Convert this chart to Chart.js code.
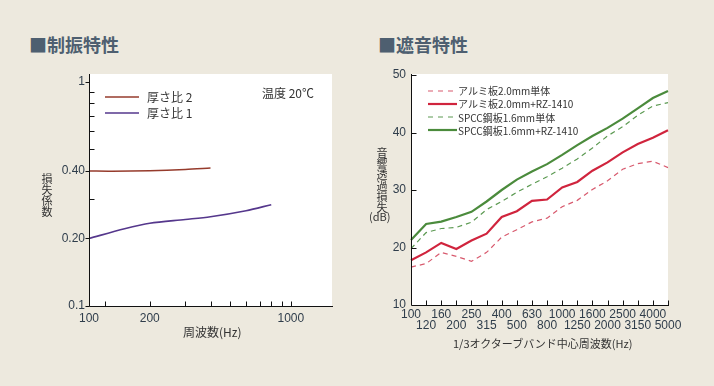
<!DOCTYPE html>
<html>
<head>
<meta charset="utf-8">
<script src="https://cdn.jsdelivr.net/npm/chart.js@4.4.0/dist/chart.umd.min.js"></script>
<style>
  html, body { margin: 0; padding: 0; background: #ede9de; }
  body { width: 714px; height: 386px; position: relative; overflow: hidden;
         font-family: 'Noto Sans CJK JP', sans-serif; color: #333; }
  canvas { position: absolute; }
  .ttl { position: absolute; top: 35px; font-size: 18px; font-weight: 700; color: #4e5f70; line-height: 1; }
  .txt { position: absolute; white-space: nowrap; line-height: 1; }
  .vert { position: absolute; width: 14px; font-size: 11px; color: #333; }
  .vert span { display: block; height: 11px; line-height: 11px; text-align: center; }
  .leg { position: absolute; display: flex; align-items: center; white-space: nowrap; }
  .leg svg { display: block; }
</style>
</head>
<body>
<div class="ttl" style="left:29px">■制振特性</div>
<div class="ttl" style="left:378px">■遮音特性</div>

<canvas id="damp" width="357" height="300" style="left:0;top:60px"></canvas>
<canvas id="sound" width="357" height="300" style="left:357px;top:60px"></canvas>

<div id="dampLegend"></div>
<div class="txt" style="left:262px;top:87px;font-size:12px">温度 20℃</div>
<div class="vert" id="dampYTitle" style="left:40px;top:173px"></div>
<div class="txt" style="left:183px;top:326px;font-size:12px">周波数(Hz)</div>

<div id="soundLegend"></div>
<div class="vert" id="soundYTitle" style="left:375px;top:147px"></div>
<div class="txt" style="left:369px;top:211px;font-size:11px">(dB)</div>
<div class="txt" style="left:453px;top:338px;font-size:11px">1/3オクターブバンド中心周波数(Hz)</div>

<script>
// ---- 制振特性 (損失係数) ----
const dampYTitle = '損失係数';
const thickNames = ['厚さ比 2', '厚さ比 1'];
const thickColors = ['#963b2c', '#55378c'];
const thick2Freq = [100, 130, 200, 300, 400];
const thick2Loss = [0.400, 0.399, 0.401, 0.406, 0.412];
const thick1Freq = [100, 150, 200, 300, 400, 600, 800];
const thick1Loss = [0.200, 0.221, 0.234, 0.243, 0.250, 0.266, 0.283];

const dampXTicks = [100, 120, 200, 300, 400, 500, 600, 700, 800, 900, 1000];
const dampXLabels = [100, 200, 1000];
const dampYTicks = [0.1, 0.2, 0.3, 0.4, 0.5, 0.6, 0.7, 0.8, 0.9, 1];
const dampYLabels = { 0.1: '0.1', 0.2: '0.20', 0.4: '0.40', 1: '1' };

// ---- 遮音特性 (音響透過損失) ----
const soundYTitle = '音響透過損失';
const bandFreqs = ['100', '120', '160', '200', '250', '315', '400', '500', '630',
                   '800', '1000', '1250', '1600', '2000', '2500', '3150', '4000', '5000'];
const soundNames = ['アルミ板2.0mm単体', 'アルミ板2.0mm+RZ-1410', 'SPCC鋼板1.6mm単体', 'SPCC鋼板1.6mm+RZ-1410'];
const soundColors = ['#d85a6e', '#d0243d', '#5c9a52', '#4b8b3c'];
const aluBare = [16.6, 17.2, 19.15, 18.45, 17.6, 19.15, 21.8, 23.1, 24.45, 25.1, 27.1, 28.2, 30.1, 31.6, 33.6, 34.6, 35.0, 33.9];
const aluRz   = [17.8, 19.15, 20.8, 19.75, 21.2, 22.4, 25.3, 26.3, 28.1, 28.35, 30.45, 31.4, 33.35, 34.8, 36.55, 38.0, 39.1, 40.4];
const spccBare = [19.8, 22.6, 23.3, 23.5, 24.4, 26.6, 28.0, 29.6, 31.0, 32.3, 33.8, 35.4, 37.3, 39.4, 41.0, 43.0, 44.6, 45.2];
const spccRz   = [21.3, 24.1, 24.5, 25.3, 26.2, 28.0, 30.0, 31.8, 33.2, 34.5, 36.1, 37.8, 39.4, 40.8, 42.4, 44.2, 46.0, 47.2];
const soundYTicks = [10, 20, 30, 40, 50];

const tickFont = { family: "'Liberation Sans Narrow', 'Arial Narrow', 'Liberation Sans', sans-serif", size: 12 };
const tickColor = '#2f3d4b';

// 縦書きの軸タイトル（1文字ずつ縦に並べる）
function stackTitle(id, text) {
  document.getElementById(id).innerHTML = Array.from(text).map(c => '<span>' + c + '</span>').join('');
}
stackTitle('dampYTitle', dampYTitle);
stackTitle('soundYTitle', soundYTitle);

// 白い描画領域と軸線・目盛り線
const axisFrame = {
  id: 'axisFrame',
  beforeDraw(chart, args, o) {
    const { ctx, chartArea: a } = chart;
    ctx.save();
    ctx.fillStyle = '#ffffff';
    ctx.fillRect(a.left, a.top - o.extraTop, a.right - a.left, a.bottom - a.top + o.extraTop);
    ctx.restore();
  },
  afterDraw(chart, args, o) {
    const { ctx, chartArea: a, scales } = chart;
    const L = Math.round(a.left) + 0.5;
    const B = Math.round(a.bottom) + 0.5;
    ctx.save();
    ctx.strokeStyle = '#111';
    ctx.lineWidth = 1;
    ctx.beginPath();
    ctx.moveTo(L, a.top - o.extraTop);
    ctx.lineTo(L, B);
    ctx.lineTo(Math.round(a.right) + 1, B);
    o.xMarks.forEach(v => {
      const x = Math.round(scales.x.getPixelForValue(v)) + 0.5;
      ctx.moveTo(x, B);
      ctx.lineTo(x, B - 5);
    });
    o.yMarks.forEach(v => {
      const y = Math.round(scales.y.getPixelForValue(v)) + 0.5;
      ctx.moveTo(L, y);
      if (o.yOut.includes(v)) ctx.lineTo(L - 4, y);
      else ctx.lineTo(L + 5, y);
    });
    ctx.stroke();
    ctx.restore();
  }
};

function buildLegend(id, names, colors, dashes, widths, left, top, step, lineW, gap, fontSize) {
  const box = document.getElementById(id);
  names.forEach((name, i) => {
    const row = document.createElement('div');
    row.className = 'leg';
    row.style.left = left + 'px';
    row.style.top = (top + i * step) + 'px';
    row.style.fontSize = fontSize + 'px';
    row.innerHTML = '<svg width="' + (lineW + gap) + '" height="10"><line x1="0" y1="5" x2="' + lineW +
      '" y2="5" stroke="' + colors[i] + '" stroke-width="' + widths[i] + '"' +
      (dashes[i] ? ' stroke-dasharray="' + dashes[i].join(' ') + '"' : '') + '/></svg><span>' + name + '</span>';
    box.appendChild(row);
  });
}

buildLegend('dampLegend', thickNames, thickColors, [null, null], [1.3, 1.3], 105, 88, 16, 34, 8, 12);
buildLegend('soundLegend', soundNames, soundColors, [[5, 5], null, [5, 5], null], [1.2, 2.2, 1.2, 2.2], 428, 83, 13.3, 29, 1, 10);

new Chart(document.getElementById('damp'), {
  type: 'line',
  data: {
    datasets: [
      { label: thickNames[0], data: thick2Freq.map((f, i) => ({ x: f, y: thick2Loss[i] })),
        borderColor: thickColors[0], borderWidth: 1.4, pointRadius: 0, tension: 0.3 },
      { label: thickNames[1], data: thick1Freq.map((f, i) => ({ x: f, y: thick1Loss[i] })),
        borderColor: thickColors[1], borderWidth: 1.6, pointRadius: 0, tension: 0.3 }
    ]
  },
  options: {
    responsive: false,
    animation: false,
    layout: { padding: { top: 14, right: 25, left: 0, bottom: 0 } },
    plugins: {
      legend: { display: false },
      tooltip: { enabled: false },
      axisFrame: { extraTop: 0, xMarks: dampXTicks.slice(1), yMarks: dampYTicks, yOut: [0.1, 0.2, 0.4, 1] }
    },
    scales: {
      x: {
        type: 'logarithmic', min: 100, max: 1600,
        afterBuildTicks: s => { s.ticks = dampXTicks.map(v => ({ value: v })); },
        afterFit: s => { s.height = 54; },
        grid: { display: false, drawTicks: false }, border: { display: false },
        ticks: { autoSkip: false, maxRotation: 0, padding: 5, font: tickFont, color: tickColor,
                 callback: v => dampXLabels.includes(v) ? String(v) : '' }
      },
      y: {
        type: 'logarithmic', min: 0.1, max: 1.082,
        afterBuildTicks: s => { s.ticks = dampYTicks.map(v => ({ value: v })); },
        afterFit: s => { s.width = 89; },
        grid: { display: false, drawTicks: false }, border: { display: false },
        ticks: { autoSkip: false, padding: 4, font: tickFont, color: tickColor,
                 callback: v => dampYLabels[v] || '' }
      }
    }
  },
  plugins: [axisFrame]
});

new Chart(document.getElementById('sound'), {
  type: 'line',
  data: {
    labels: bandFreqs,
    datasets: [
      { label: soundNames[0], data: aluBare, borderColor: soundColors[0], borderWidth: 1.2, borderDash: [5, 4], pointRadius: 0 },
      { label: soundNames[1], data: aluRz, borderColor: soundColors[1], borderWidth: 2.2, pointRadius: 0 },
      { label: soundNames[2], data: spccBare, borderColor: soundColors[2], borderWidth: 1.2, borderDash: [5, 4], pointRadius: 0 },
      { label: soundNames[3], data: spccRz, borderColor: soundColors[3], borderWidth: 2.2, pointRadius: 0 }
    ]
  },
  options: {
    responsive: false,
    animation: false,
    layout: { padding: { top: 15, right: 46, left: 0, bottom: 0 } },
    plugins: {
      legend: { display: false },
      tooltip: { enabled: false },
      axisFrame: { extraTop: 1, xMarks: bandFreqs.map((f, i) => i).slice(1), yMarks: soundYTicks.slice(1), yOut: [] }
    },
    scales: {
      x: {
        type: 'category', offset: false,
        afterFit: s => { s.height = 55; },
        grid: { display: false, drawTicks: false }, border: { display: false },
        ticks: { autoSkip: false, maxRotation: 0, padding: 4, font: { ...tickFont, lineHeight: 0.9 }, color: tickColor,
                 callback: (v, i) => i % 2 === 0 ? [bandFreqs[i], ''] : ['', bandFreqs[i]] }
      },
      y: {
        min: 10, max: 50,
        afterBuildTicks: s => { s.ticks = soundYTicks.map(v => ({ value: v })); },
        afterFit: s => { s.width = 54; },
        grid: { display: false, drawTicks: false }, border: { display: false },
        ticks: { padding: 5, font: tickFont, color: tickColor }
      }
    }
  },
  plugins: [axisFrame]
});
</script>
</body>
</html>
